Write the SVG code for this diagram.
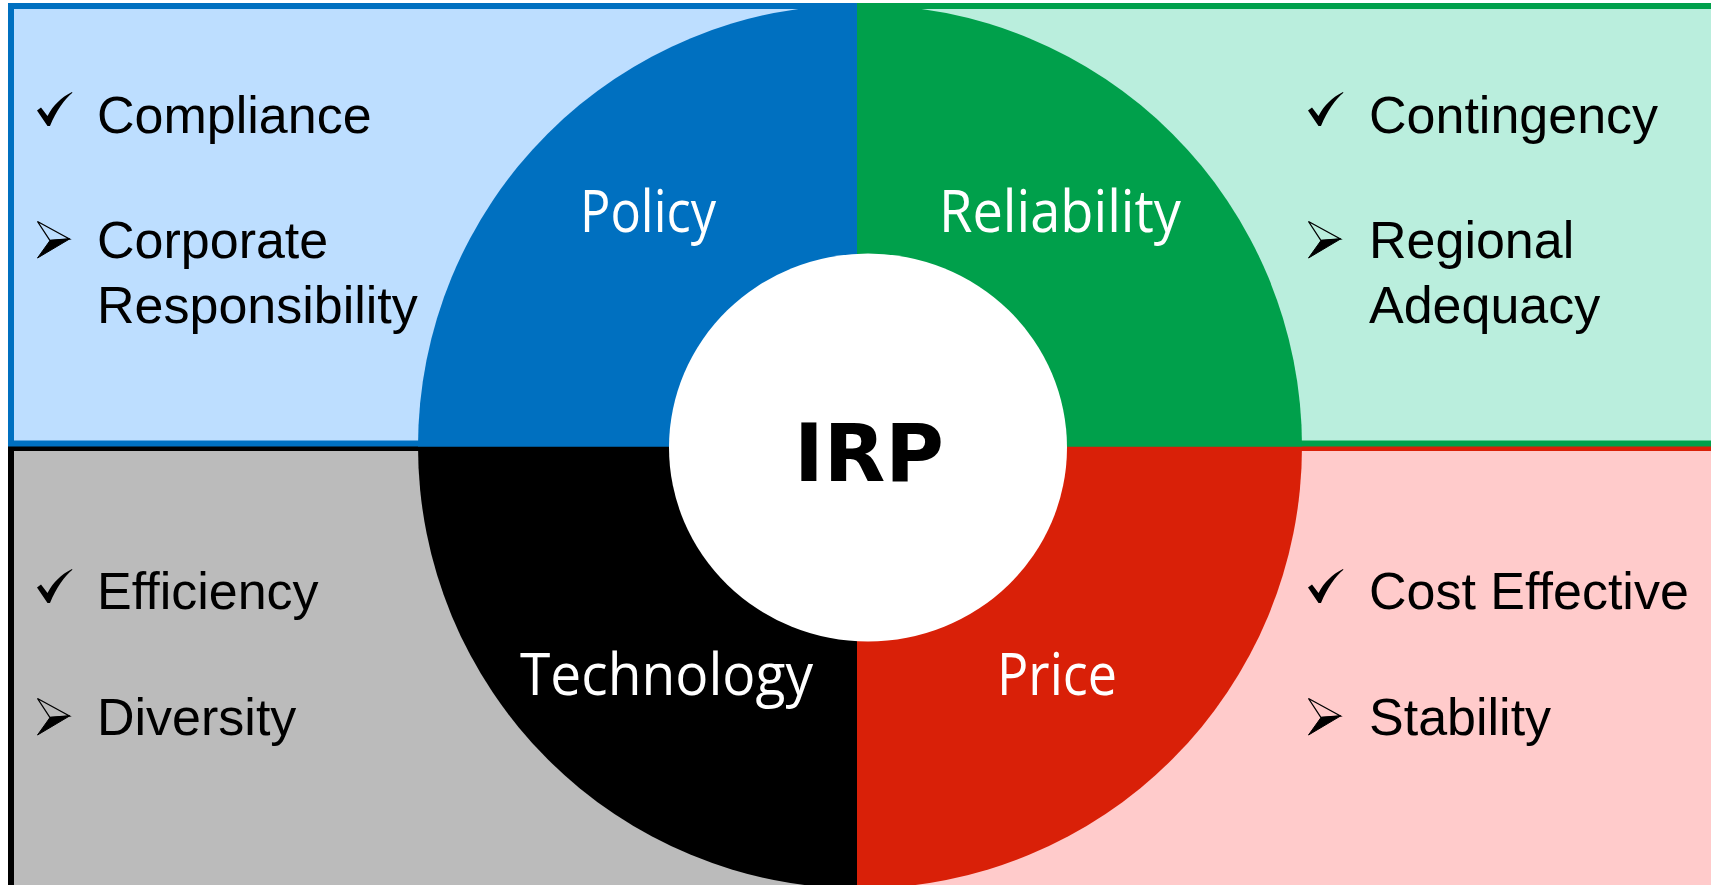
<svg xmlns="http://www.w3.org/2000/svg" width="1711" height="885" viewBox="0 0 1711 885">
  <style>
    .box { stroke-width: 6; }
    .item { font-family: "Liberation Sans", Arial, sans-serif; font-size: 52px; fill: #000; }
    .seg { font-family: "Open Sans", "Noto Sans", sans-serif; font-size: 58px; fill: #fff; }
    .hub { font-family: "DejaVu Sans", sans-serif; font-weight: bold; font-size: 80px; fill: #000; }
  </style>
  <defs>
    <!-- calligraphic check-mark bullet, 35 x 34 -->
    <symbol id="tick" viewBox="0 0 36 35" width="36" height="35" overflow="visible">
      <path d="M0,18.5 L4,15.5 L10.5,24 C16,13.5 24,5.5 35,0 L35.4,0.8 C27,8 19.5,18.5 13,34 L10.5,34 Z" fill="#000"/>
    </symbol>
    <!-- half-shaded arrowhead bullet, 33 x 37 -->
    <symbol id="arrowhead" viewBox="0 0 34 38" width="34" height="38" overflow="visible">
      <path d="M0.5,0.5 L32.5,18 L13,19.5 Z" fill="none" stroke="#000" stroke-width="1.3" stroke-linejoin="miter"/>
      <path d="M13,19.5 L32.5,18 L0.5,37 Z" fill="#000" stroke="#000" stroke-width="1" stroke-linejoin="miter"/>
    </symbol>
  </defs>
  <rect width="1711" height="885" fill="#fff"/>

  <!-- Technology (lower left) -->
  <g id="technology">
    <rect class="box" x="11" y="448" width="849" height="500" fill="#BBBBBB" stroke="#000"/>
    <path d="M860,446.5 L860,888.5 A442,442 0 0 1 418,446.5 Z" fill="#000"/>
    <text class="seg" x="520" y="695" textLength="293" lengthAdjust="spacingAndGlyphs">Technology</text>
    <use href="#tick" x="37" y="569"/>
    <text class="item" x="97" y="609">Efficiency</text>
    <use href="#arrowhead" x="37" y="698"/>
    <text class="item" x="97" y="735">Diversity</text>
  </g>

  <!-- Price (lower right) -->
  <g id="price">
    <rect class="box" x="860" y="448" width="900" height="500" fill="#FFCBCB" stroke="#D92008"/>
    <path d="M860,446.5 L1302,446.5 A442,442 0 0 1 860,888.5 Z" fill="#D92008"/>
    <text class="seg" x="997" y="695" textLength="120" lengthAdjust="spacingAndGlyphs">Price</text>
    <use href="#tick" x="1308" y="569"/>
    <text class="item" x="1369" y="609">Cost Effective</text>
    <use href="#arrowhead" x="1308" y="698"/>
    <text class="item" x="1369" y="735">Stability</text>
  </g>

  <!-- Policy (upper left) -->
  <g id="policy">
    <rect class="box" x="11" y="6" width="849" height="437.5" fill="#BDDEFF" stroke="#0070C0"/>
    <path d="M860,446.5 L418,446.5 A442,442 0 0 1 860,4.5 Z" fill="#0070C0"/>
    <text class="seg" x="580" y="232" textLength="136" lengthAdjust="spacingAndGlyphs">Policy</text>
    <use href="#tick" x="37" y="92"/>
    <text class="item" x="97" y="133">Compliance</text>
    <use href="#arrowhead" x="37" y="221"/>
    <text class="item" x="97" y="258">Corporate</text>
    <text class="item" x="97" y="323">Responsibility</text>
  </g>

  <!-- Reliability (upper right) -->
  <g id="reliability">
    <rect class="box" x="860" y="6" width="900" height="437.5" fill="#BAEEDD" stroke="#00A04B"/>
    <path d="M860,446.5 L860,4.5 A442,442 0 0 1 1302,446.5 Z" fill="#00A04B"/>
    <text class="seg" x="939" y="232" textLength="242" lengthAdjust="spacingAndGlyphs">Reliability</text>
    <use href="#tick" x="1308" y="92"/>
    <text class="item" x="1369" y="133">Contingency</text>
    <use href="#arrowhead" x="1308" y="221"/>
    <text class="item" x="1369" y="258">Regional</text>
    <text class="item" x="1369" y="323">Adequacy</text>
  </g>

  <!-- Centre hub -->
  <g id="irp">
    <ellipse cx="868" cy="447.5" rx="199" ry="194" fill="#fff"/>
    <text class="hub" x="869" y="481" text-anchor="middle">IRP</text>
  </g>
</svg>
